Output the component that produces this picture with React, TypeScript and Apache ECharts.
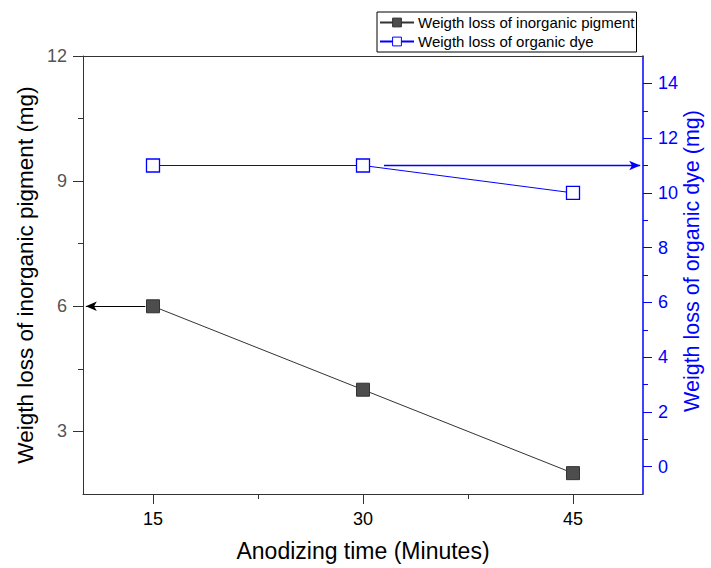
import React, { useEffect, useRef } from "react";
import * as echarts from "echarts";

const times = [15, 30, 45];
const inorganic = [6, 4, 2];
const organic = [11, 11, 10];
const xMajor = [15, 30, 45];
const xMinor = [22.5, 37.5];
const leftMajor = [3, 6, 9, 12];
const leftMinor = [4.5, 7.5, 10.5];
const rightMajor = [0, 2, 4, 6, 8, 10, 12, 14];
const rightMinor = [1, 3, 5, 7, 9, 11, 13];
const leftArrow = [[14.45, 6], [10.2, 6]];
const rightArrow = [[31.5, 11], [49.8, 11]];

const FONT = "Liberation Sans, Arial, sans-serif";
const BLUE = "#0000ff";

export default function App() {
  const ref = useRef<HTMLDivElement>(null);
  useEffect(() => {
    if (!ref.current) return;
    const chart = echarts.init(ref.current, null, { renderer: "svg" });
    const xRange = { min: 10, max: 50 };
    const lRange = { min: 1.5, max: 12 };
    const rRange = { min: -1, max: 15 };
    const hidden = { show: false };
    chart.setOption({
      animation: false,
      backgroundColor: "#fff",
      textStyle: { fontFamily: FONT },
      grid: { left: 83, right: 68, top: 56, bottom: 74, containLabel: false, outerBoundsMode: "none" },
      legend: {
        orient: "vertical",
        left: 377,
        top: 12,
        itemGap: 4,
        itemWidth: 34,
        itemHeight: 11,
        itemStyle: { borderWidth: 1 },
        borderColor: "#000",
        borderWidth: 1,
        borderRadius: 0,
        padding: [3, 2, 3, 2],
        textStyle: { fontSize: 15, fontFamily: FONT, color: "#000", padding: [0, 0, 0, -1] },
        data: ["Weigth loss of inorganic pigment", "Weigth loss of organic dye"],
      },
      xAxis: [
        {
          type: "value",
          ...xRange,
          position: "bottom",
          name: "Anodizing time (Minutes)",
          nameLocation: "middle",
          nameGap: 45,
          nameMoveOverlap: false,
          nameTextStyle: { fontSize: 23, color: "#000", fontFamily: FONT },
          axisLine: { show: true, onZero: false, lineStyle: { color: "#333", width: 1 } },
          axisTick: { show: true, inside: false, length: 10, customValues: xMajor, lineStyle: { color: "#333" } },
          axisLabel: { show: true, customValues: xMajor, fontSize: 18, color: "#000", margin: 16, fontFamily: FONT },
          splitLine: hidden,
        },
        {
          type: "value",
          ...xRange,
          position: "bottom",
          axisLine: { show: false, onZero: false },
          axisTick: { show: true, length: 5, customValues: xMinor, lineStyle: { color: "#333" } },
          axisLabel: { show: true, customValues: xMinor, formatter: () => "" },
          splitLine: hidden,
        },
        {
          type: "value",
          ...xRange,
          position: "top",
          axisLine: { show: true, onZero: false, lineStyle: { color: "#333", width: 1 } },
          axisTick: hidden,
          axisLabel: hidden,
          splitLine: hidden,
        },
      ],
      yAxis: [
        {
          type: "value",
          ...lRange,
          position: "left",
          name: "Weigth loss of inorganic pigment (mg)",
          nameLocation: "middle",
          nameGap: 46,
          nameMoveOverlap: false,
          nameTextStyle: { fontSize: 22.5, color: "#000", fontFamily: FONT },
          axisLine: { show: true, onZero: false, lineStyle: { color: "#333", width: 1 } },
          axisTick: { show: true, length: 10, customValues: leftMajor, lineStyle: { color: "#333" } },
          axisLabel: { show: true, customValues: leftMajor, fontSize: 18, color: "#555", margin: 16, fontFamily: FONT },
          splitLine: hidden,
        },
        {
          type: "value",
          ...rRange,
          position: "right",
          name: "Weigth loss of organic dye (mg)",
          nameLocation: "middle",
          nameGap: 38,
          nameMoveOverlap: false,
          nameTextStyle: { fontSize: 21.5, color: BLUE, fontFamily: FONT, padding: [0, 0, 0, 28] },
          axisLine: { show: true, onZero: false, lineStyle: { color: BLUE, width: 1.5 } },
          axisTick: { show: true, length: 9, customValues: rightMajor, lineStyle: { color: BLUE } },
          axisLabel: { show: true, customValues: rightMajor, fontSize: 18, color: BLUE, margin: 15, fontFamily: FONT },
          splitLine: hidden,
        },
        {
          type: "value",
          ...lRange,
          position: "left",
          axisLine: { show: false, onZero: false },
          axisTick: { show: true, length: 5, customValues: leftMinor, lineStyle: { color: "#333" } },
          axisLabel: { show: true, customValues: leftMinor, formatter: () => "" },
          splitLine: hidden,
        },
        {
          type: "value",
          ...rRange,
          position: "right",
          axisLine: { show: false, onZero: false },
          axisTick: { show: true, length: 5, customValues: rightMinor, lineStyle: { color: BLUE } },
          axisLabel: { show: true, customValues: rightMinor, formatter: () => "" },
          splitLine: hidden,
        },
      ],
      series: [
        {
          name: "Weigth loss of inorganic pigment",
          type: "line",
          xAxisIndex: 0,
          yAxisIndex: 0,
          data: times.map((t, i) => [t, inorganic[i]]),
          symbol: "rect",
          symbolSize: 13,
          lineStyle: { color: "#333", width: 1 },
          itemStyle: { color: "#4d4d4d", borderColor: "#333", borderWidth: 1 },
          z: 3,
          markLine: {
            silent: true,
            symbol: ["none", "arrow"],
            symbolSize: [7, 11],
            label: { show: false },
            lineStyle: { color: "#000", width: 1, type: "solid" },
            data: [[{ coord: leftArrow[0] }, { coord: leftArrow[1] }]],
          },
        },
        {
          name: "Weigth loss of organic dye",
          type: "line",
          xAxisIndex: 0,
          yAxisIndex: 1,
          data: times.map((t, i) => [t, organic[i]]),
          symbol: "rect",
          symbolSize: 13,
          lineStyle: { color: BLUE, width: 1 },
          itemStyle: { color: "#fff", borderColor: BLUE, borderWidth: 1.3 },
          z: 3,
          markLine: {
            silent: true,
            symbol: ["none", "arrow"],
            symbolSize: [7, 11],
            label: { show: false },
            lineStyle: { color: BLUE, width: 1.3, type: "solid" },
            data: [[{ coord: rightArrow[0] }, { coord: rightArrow[1] }]],
          },
        },
      ],
    });
    return () => chart.dispose();
  }, []);
  return <div ref={ref} style={{ width: 711, height: 568, position: "absolute", left: 0, top: 0 }} />;
}
